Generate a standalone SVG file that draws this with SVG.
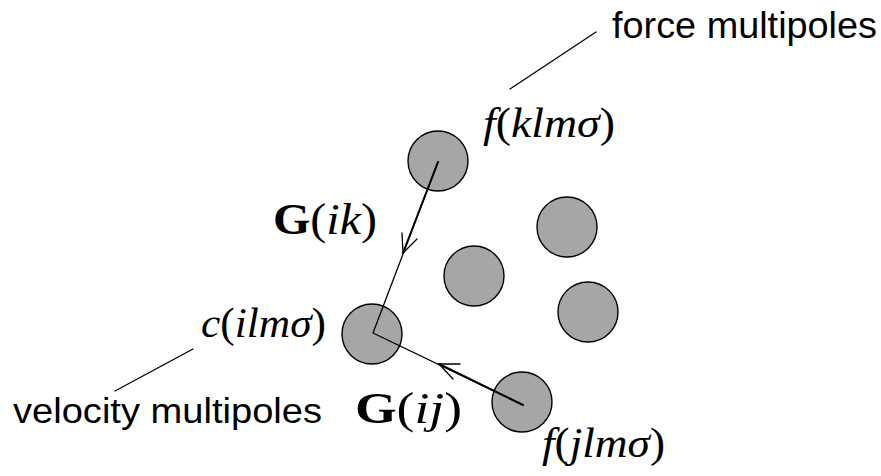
<svg xmlns="http://www.w3.org/2000/svg" width="881" height="476" viewBox="0 0 881 476">
<style>
.node{fill:#a6a6a6;stroke:#000;stroke-width:1.4}
.ln{fill:none;stroke:#000;stroke-width:1.3;stroke-linecap:round;stroke-linejoin:round}
.thick{stroke-width:2}
.sans{font-family:"Liberation Sans",Arial,sans-serif;fill:#000}
.math{font-family:"Liberation Serif","Times New Roman",serif;fill:#000}
.it{font-style:italic}
.bf{font-weight:bold}
</style>
<rect width="881" height="476" fill="#fff"/>
<g id="node-k"><circle class="node" cx="438" cy="161" r="30"/></g>
<g id="node-a"><circle class="node" cx="567" cy="227" r="30"/></g>
<g id="node-b"><circle class="node" cx="474" cy="276" r="30"/></g>
<g id="node-c"><circle class="node" cx="588" cy="312" r="30"/></g>
<g id="node-i"><circle class="node" cx="372" cy="334" r="30"/></g>
<g id="node-j"><circle class="node" cx="522" cy="402" r="30"/></g>
<g id="connectors">
<path class="ln" d="M438,162 L373,333 L523,405"/>
<path class="ln thick" d="M438,162 L403,253"/>
<path class="ln thick" d="M523,405 L439,364"/>
<polyline class="ln" points="402,233 403,253 417,239"/>
<polyline class="ln" points="460,364 439,364 453,379"/>
<line class="ln" x1="510" y1="89" x2="596" y2="32"/>
<line class="ln" x1="115" y1="391" x2="193" y2="349"/>
</g>
<g id="labels">
<text class="sans" x="612" y="38" font-size="36" textLength="265" lengthAdjust="spacingAndGlyphs">force multipoles</text>
<text class="sans" x="13" y="423" font-size="35" textLength="309" lengthAdjust="spacingAndGlyphs">velocity multipoles</text>
<text class="math" x="483" y="137" font-size="43" textLength="132" lengthAdjust="spacingAndGlyphs"><tspan class="it">f</tspan>(<tspan class="it">klmσ</tspan>)</text>
<text class="math" x="201" y="337" font-size="42" textLength="125" lengthAdjust="spacingAndGlyphs"><tspan class="it">c</tspan>(<tspan class="it">ilmσ</tspan>)</text>
<text class="math" x="542" y="457" font-size="42" textLength="123" lengthAdjust="spacingAndGlyphs"><tspan class="it">f</tspan>(<tspan class="it">jlmσ</tspan>)</text>
<text class="math" x="273" y="234" font-size="44" textLength="104" lengthAdjust="spacingAndGlyphs"><tspan class="bf">G</tspan>(<tspan class="it">ik</tspan>)</text>
<text class="math" x="355" y="423" font-size="45" textLength="107" lengthAdjust="spacingAndGlyphs"><tspan class="bf">G</tspan>(<tspan class="it">ij</tspan>)</text>
</g>
</svg>
